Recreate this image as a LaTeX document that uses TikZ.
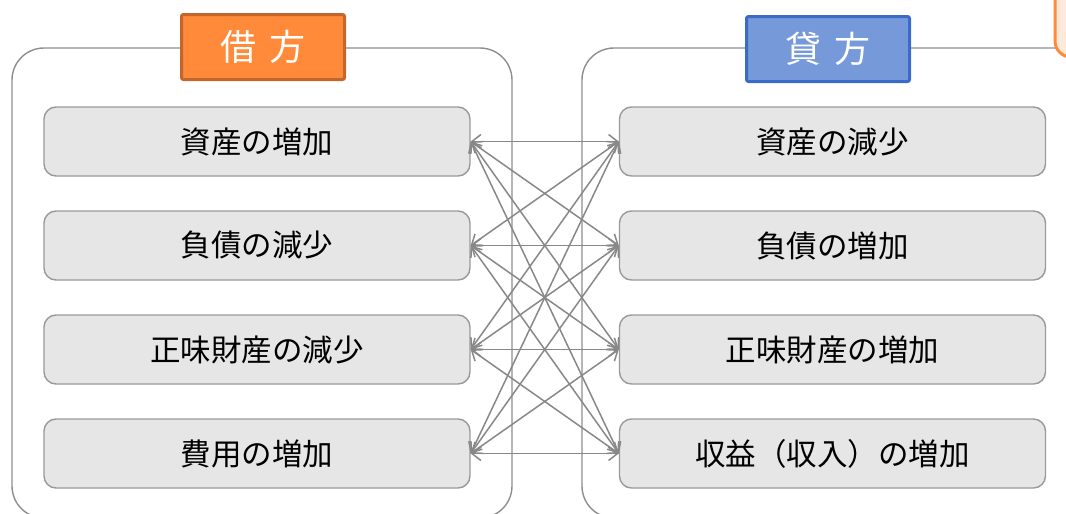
\documentclass[tikz,border=0pt]{standalone}
\usepackage{fontspec}
\setmainfont{Noto Sans CJK JP}
\usetikzlibrary{arrows.meta}
\definecolor{nodefill}{HTML}{E6E6E6}
\definecolor{nodeline}{HTML}{9A9A9A}
\definecolor{linkcol}{HTML}{888888}
\definecolor{frame}{HTML}{8E8E8E}
\definecolor{orfill}{HTML}{FF8A3A}
\definecolor{orline}{HTML}{C4652B}
\definecolor{blfill}{HTML}{7699D9}
\definecolor{blline}{HTML}{3C6BC6}
\definecolor{corner}{HTML}{FF8A3A}
\definecolor{cornerfill}{HTML}{FDEADB}
\tikzset{
  item/.style={draw=nodeline, line width=1.4pt, fill=nodefill, rounded corners=12pt,
    minimum width=426pt, minimum height=69pt, inner sep=0pt, font=\fontsize{30.5}{33}\selectfont},
  bigframe/.style={draw=frame, line width=1.4pt, rounded corners=32pt},
  hdr/.style={line width=3pt, rounded corners=2pt, minimum width=163pt, minimum height=65pt,
    inner sep=0pt, text=white, font=\fontsize{36}{40}\selectfont},
  link/.style={draw=linkcol, line width=1.5pt, {Straight Barb[length=9pt,width=14pt]}-{Straight Barb[length=9pt,width=14pt]}}
}
\begin{document}
\begin{tikzpicture}[x=1pt,y=-1pt]
\useasboundingbox (0,0) rectangle (1066,514);
\begin{scope}
\clip (0,0) rectangle (1066,514);
% big frames
\draw[bigframe] (12,48) rectangle (512,518);
\draw[bigframe] (582,48) rectangle (1110,518);
% partial orange box at top right
\draw[draw=corner, line width=3pt, fill=cornerfill, rounded corners=16pt] (1055,-40) rectangle (1120,57);
\end{scope}
% headers
\node[hdr, fill=orfill, draw=orline] (debit) at (263,47) {借\hspace{14pt}方};
\node[hdr, fill=blfill, draw=blline] (credit) at (828,49) {貸\hspace{14pt}方};
% left items
\node[item] (L1) at (257,141.5) {資産の増加};
\node[item] (L2) at (257,245.5) {負債の減少};
\node[item] (L3) at (257,349.5) {正味財産の減少};
\node[item] (L4) at (257,453.5) {費用の増加};
% right items
\node[item] (R1) at (832.5,141.5) {資産の減少};
\node[item] (R2) at (832.5,245.5) {負債の増加};
\node[item] (R3) at (832.5,349.5) {正味財産の増加};
\node[item] (R4) at (832.5,453.5) {収益（収入）の増加};
% links
\foreach \i in {1,2,3,4}{
  \foreach \j in {1,2,3,4}{
    \draw[link] (L\i.east) -- (R\j.west);
  }
}
\end{tikzpicture}
\end{document}
